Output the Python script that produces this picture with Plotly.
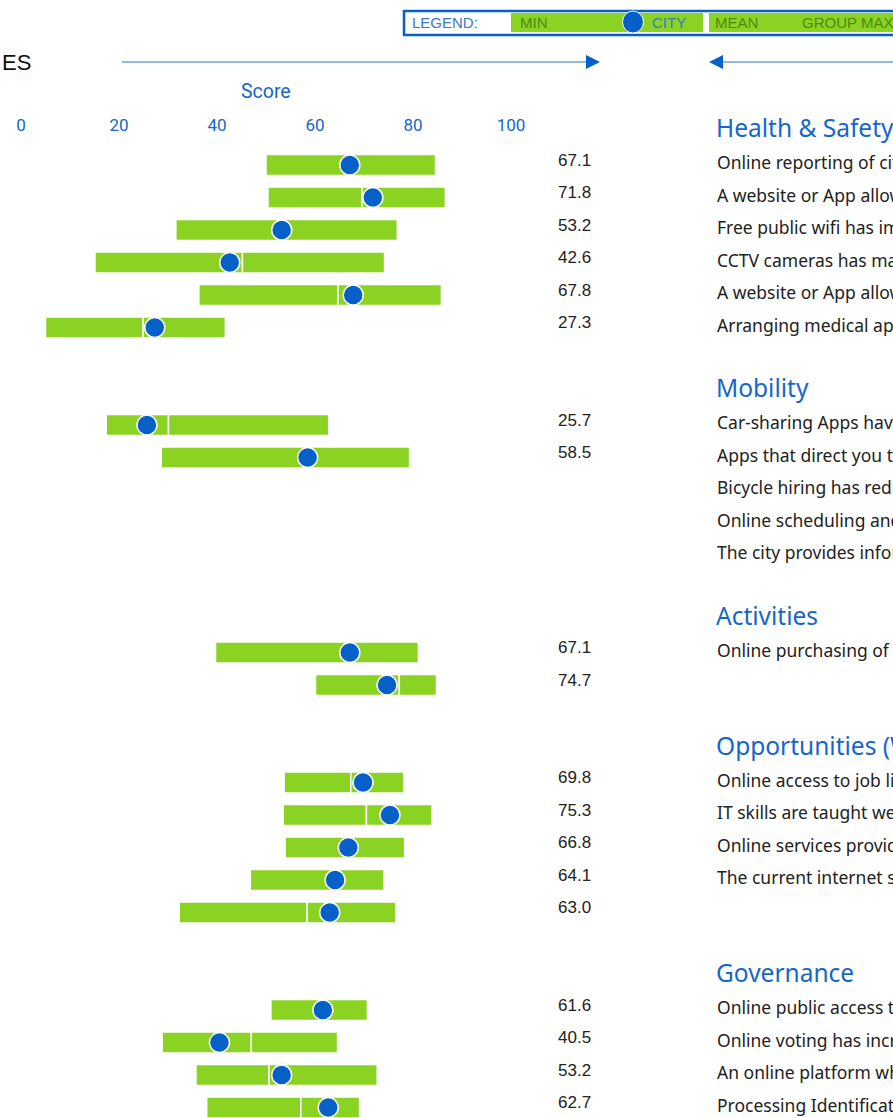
import plotly.graph_objects as go

# ---------------- data ----------------
sections = ["Health & Safety", "Mobility", "Activities",
            "Opportunities (Work & School)", "Governance"]

hs_labels = [
    "Online reporting of city maintenance problems provides a speedy solution",
    "A website or App allows residents to easily give away unwanted items",
    "Free public wifi has improved access to city services",
    "CCTV cameras has made residents feel safer",
    "A website or App allows residents to effectively monitor air pollution",
    "Arranging medical appointments online has improved access",
]
hs_min = [50.0, 50.4, 31.6, 15.1, 36.3, 5.0]
hs_mean = [67.6, 69.6, 53.6, 45.2, 64.7, 24.9]
hs_max = [84.6, 86.6, 76.8, 74.2, 85.8, 41.7]
hs_city = [67.1, 71.8, 53.2, 42.6, 67.8, 27.3]

mo_labels = [
    "Car-sharing Apps have reduced congestion",
    "Apps that direct you to an available parking space have reduced journey time",
    "Bicycle hiring has reduced congestion",
    "Online scheduling and ticket sales has made public transport easier to use",
    "The city provides information on traffic congestion through mobile phones",
]
mo_min = [17.4, 28.6, None, None, None]
mo_mean = [30.1, 58.0, None, None, None]
mo_max = [62.8, 79.3, None, None, None]
mo_city = [25.7, 58.5, None, None, None]

ac_labels = [
    "Online purchasing of tickets to shows and museums has made it easier to attend",
    "",
]
ac_min = [39.7, 60.1]
ac_mean = [67.4, 77.2]
ac_max = [81.1, 84.8]
ac_city = [67.1, 74.7]

op_labels = [
    "Online access to job listings has made it easier to find work",
    "IT skills are taught well in schools",
    "Online services provided by the city has made it easier to start a new business",
    "The current internet speed and reliability meet connectivity needs",
    "",
]
op_min = [53.7, 53.5, 53.9, 46.8, 32.3]
op_mean = [67.3, 70.5, 66.5, 64.5, 58.4]
op_max = [78.1, 83.9, 78.3, 74.1, 76.5]
op_city = [69.8, 75.3, 66.8, 64.1, 63.0]

gv_labels = [
    "Online public access to city finances has reduced corruption",
    "Online voting has increased participation",
    "An online platform where residents can propose ideas has improved city life",
    "Processing Identification Documents online has reduced waiting times",
]
gv_min = [51.0, 28.8, 35.7, 37.9]
gv_mean = [61.2, 47.0, 50.6, 57.1]
gv_max = [70.7, 64.6, 72.7, 69.1]
gv_city = [61.6, 40.5, 53.2, 62.7]

tick_values = [0, 20, 40, 60, 80, 100]
tick_labels = ["0", "20", "40", "60", "80", "100"]

# ---------------- layout helpers ----------------
W, H = 893, 1118
X0, SX = 21.0, 4.9       # px of value 0, px per unit
Y0, SY = 132.5, 32.5     # px of slot 0, px per slot

GREEN = "#8BD322"
BLUE = "#0560C8"
TBLUE = "#1466CC"
DARKGREEN = "#4C8A12"


def px(x):
    return x / W


def py(y):
    return 1 - y / H


groups = [
    (hs_labels, hs_min, hs_mean, hs_max, hs_city),
    (mo_labels, mo_min, mo_mean, mo_max, mo_city),
    (ac_labels, ac_min, ac_mean, ac_max, ac_city),
    (op_labels, op_min, op_mean, op_max, op_city),
    (gv_labels, gv_min, gv_mean, gv_max, gv_city),
]

ys, mins, means, maxs, cities, labels = [], [], [], [], [], []
header_slots = []
k = 0
for sec, (lab, mn, me, mx, ct) in zip(sections, groups):
    header_slots.append(k)
    for i in range(len(lab)):
        ys.append(k + 1 + i)
        labels.append(lab[i])
        mins.append(mn[i])
        means.append(me[i])
        maxs.append(mx[i])
        cities.append(ct[i])
    k += len(lab) + 2

left_len = [None if a is None else b - a for a, b in zip(mins, means)]
right_len = [None if a is None else b - a for a, b in zip(means, maxs)]

fig = go.Figure()
fig.add_trace(go.Bar(
    y=ys, x=left_len, base=mins, orientation="h", width=0.64,
    marker=dict(color=GREEN, line=dict(color="white", width=1.5)),
    hoverinfo="skip", showlegend=False))
fig.add_trace(go.Bar(
    y=ys, x=right_len, base=means, orientation="h", width=0.64,
    marker=dict(color=GREEN, line=dict(color="white", width=1.5)),
    hoverinfo="skip", showlegend=False))
fig.add_trace(go.Scatter(
    y=ys, x=cities, mode="markers",
    marker=dict(size=20, color=BLUE, line=dict(color="white", width=1.5)),
    hoverinfo="skip", showlegend=False, cliponaxis=False))

ann = []
# value labels
for y, c in zip(ys, cities):
    if c is not None:
        ann.append(dict(x=px(593), xref="paper", y=y, yref="y", yshift=5,
                        text=f"{c:.1f}", xanchor="right", yanchor="middle",
                        showarrow=False,
                        font=dict(family="Liberation Sans", size=17, color="#222222")))
# row labels
for y, t in zip(ys, labels):
    if t:
        ann.append(dict(x=px(715), xref="paper", y=y, yref="y", yshift=3,
                        text=t, xanchor="left", yanchor="middle", showarrow=False,
                        font=dict(family="Noto Sans", size=17.5, color="#222222")))
# section headers
for s, t in zip(header_slots, sections):
    ann.append(dict(x=px(714), xref="paper", y=s, yref="y", yshift=5,
                    text=t, xanchor="left", yanchor="middle", showarrow=False,
                    font=dict(family="Noto Sans", size=24.5, color=TBLUE)))
# axis title
ann.append(dict(x=50, xref="x", y=py(92), yref="paper", text="Score",
                showarrow=False, xanchor="center", yanchor="middle",
                font=dict(family="Roboto", size=19.5, color=TBLUE)))
# fragment of heading at left
ann.append(dict(x=px(33), xref="paper", y=py(62), yref="paper", text="ES",
                showarrow=False, xanchor="right", yanchor="middle",
                font=dict(family="Liberation Sans", size=22, color="#111111")))
# legend texts
leg_font = dict(family="Liberation Sans", size=15)
ann.append(dict(x=px(410), xref="paper", y=py(22), yref="paper", text="LEGEND:",
                showarrow=False, xanchor="left", yanchor="middle",
                font=dict(**leg_font, color="#3B78C4")))
for xx, t, col in [(518, "MIN", DARKGREEN), (650, "CITY", "#3B78C4"),
                   (713, "MEAN", DARKGREEN), (800, "GROUP MAX", DARKGREEN)]:
    ann.append(dict(x=px(xx), xref="paper", y=py(22), yref="paper", text=t,
                    showarrow=False, xanchor="left", yanchor="middle",
                    font=dict(**leg_font, color=col)))

shapes = [
    # legend box
    dict(type="rect", xref="paper", yref="paper", x0=px(404), x1=px(1000),
         y0=py(35), y1=py(11), line=dict(color=BLUE, width=2.5), fillcolor="white",
         layer="below"),
    dict(type="rect", xref="paper", yref="paper", x0=px(511), x1=px(703),
         y0=py(32), y1=py(13), line=dict(width=0), fillcolor=GREEN, layer="below"),
    dict(type="rect", xref="paper", yref="paper", x0=px(709), x1=px(1000),
         y0=py(32), y1=py(13), line=dict(width=0), fillcolor=GREEN, layer="below"),
    dict(type="circle", xref="paper", yref="paper", x0=px(622.5), x1=px(643.5),
         y0=py(33), y1=py(11), line=dict(color="white", width=1),
         fillcolor=BLUE),
    # arrows
    dict(type="line", xref="paper", yref="paper", x0=px(122), x1=px(590),
         y0=py(62), y1=py(62), line=dict(color="#2A6CCF", width=1)),
    dict(type="path", xref="paper", yref="paper",
         path=f"M {px(586)} {py(55)} L {px(600)} {py(62)} L {px(586)} {py(69)} Z",
         fillcolor=BLUE, line=dict(width=0)),
    dict(type="line", xref="paper", yref="paper", x0=px(718), x1=px(1000),
         y0=py(62), y1=py(62), line=dict(color="#2A6CCF", width=1)),
    dict(type="path", xref="paper", yref="paper",
         path=f"M {px(723)} {py(55)} L {px(709)} {py(62)} L {px(723)} {py(69)} Z",
         fillcolor=BLUE, line=dict(width=0)),
]

fig.update_layout(
    width=W, height=H, autosize=False,
    margin=dict(l=0, r=0, t=0, b=0, pad=0),
    paper_bgcolor="white", plot_bgcolor="white",
    barmode="overlay",
    annotations=ann, shapes=shapes,
    xaxis=dict(range=[-X0 / SX, (W - X0) / SX], domain=[0, 1],
               anchor="free", position=py(134), side="top",
               tickvals=tick_values, ticktext=tick_labels,
               tickfont=dict(family="Roboto", size=17, color=TBLUE),
               showgrid=False, zeroline=False, showline=False, ticks="",
               fixedrange=True),
    yaxis=dict(range=[(H - Y0) / SY, -Y0 / SY], domain=[0, 1], visible=False,
               fixedrange=True),
)

fig.write_html(
    "out.html",
    config={"displayModeBar": False, "staticPlot": True},
    post_script="document.body.style.margin='0';"
                "document.documentElement.style.overflow='hidden';"
                "document.body.style.overflow='hidden';",
)
